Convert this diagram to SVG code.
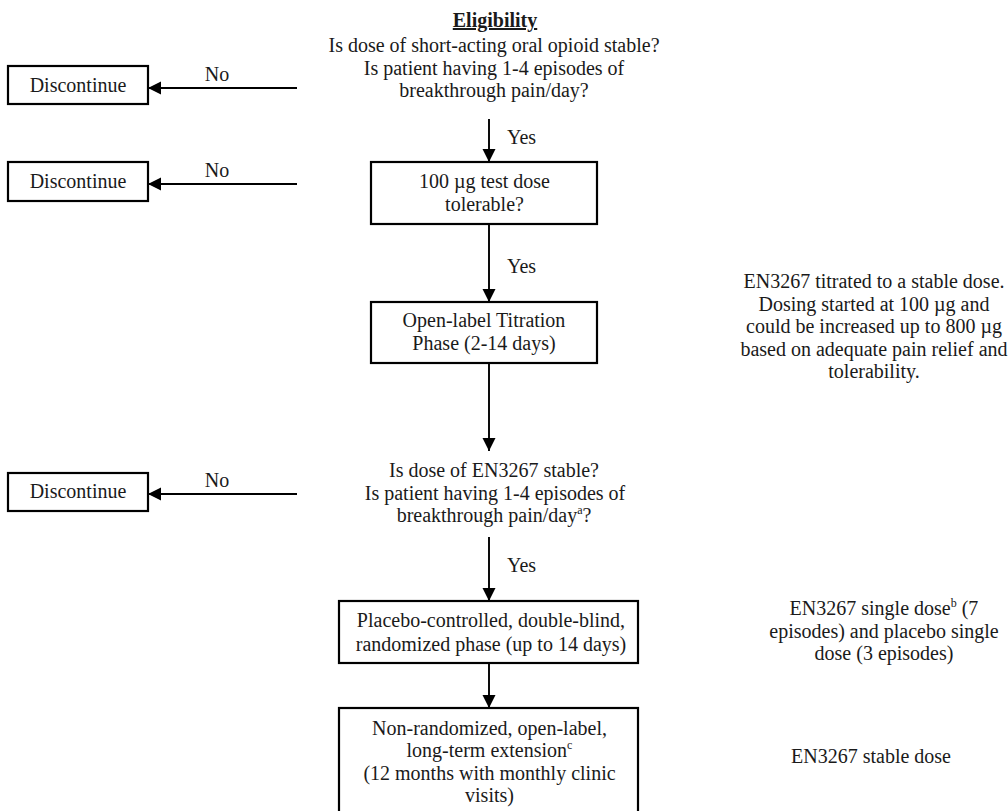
<svg xmlns="http://www.w3.org/2000/svg" width="1008" height="811" viewBox="0 0 1008 811">
<style>
text{font-family:"Liberation Serif","Times New Roman",serif;font-size:20px;fill:#1a1a1a;text-anchor:middle}
.bold{font-weight:bold;text-decoration:underline}
.box{fill:#fff;stroke:#000;stroke-width:2.2}
.conn{stroke:#000;stroke-width:1.9;fill:none}
.lbl{text-anchor:start}
.sup{font-size:12px}
</style>
<defs>
<marker id="ah" viewBox="0 0 14 14" refX="13" refY="7" markerWidth="14" markerHeight="14" markerUnits="userSpaceOnUse" orient="auto">
<path d="M0,0.5 L13,7 L0,13.5 Z" fill="#000"/>
</marker>
</defs>
<rect width="1008" height="811" fill="#fff"/>

<g id="eligibility">
<text x="495" y="27" class="bold">Eligibility</text>
<text x="494" y="52">Is dose of short-acting oral opioid stable?</text>
<text x="494" y="74.5">Is patient having 1-4 episodes of</text>
<text x="494" y="97">breakthrough pain/day?</text>
</g>

<g id="discontinue1">
<rect class="box" x="8" y="66" width="140" height="38"/>
<text x="78" y="92">Discontinue</text>
</g>
<g id="discontinue2">
<rect class="box" x="8" y="162" width="140" height="39"/>
<text x="78" y="188">Discontinue</text>
</g>
<g id="discontinue3">
<rect class="box" x="8" y="473" width="140" height="38"/>
<text x="78" y="498">Discontinue</text>
</g>

<g id="testdose">
<rect class="box" x="371" y="162" width="226" height="62"/>
<text x="484.5" y="188">100 µg test dose</text>
<text x="484.5" y="211">tolerable?</text>
</g>

<g id="titration">
<rect class="box" x="371" y="302" width="226" height="61"/>
<text x="484" y="327">Open-label Titration</text>
<text x="484" y="350">Phase (2-14 days)</text>
</g>

<g id="titration-note">
<text x="874" y="288">EN3267 titrated to a stable dose.</text>
<text x="874" y="310.5">Dosing started at 100 µg and</text>
<text x="874" y="333">could be increased up to 800 µg</text>
<text x="874" y="355.5">based on adequate pain relief and</text>
<text x="874" y="378">tolerability.</text>
</g>

<g id="stable-question">
<text x="494" y="477">Is dose of EN3267 stable?</text>
<text x="495" y="499.5">Is patient having 1-4 episodes of</text>
<text x="494" y="522">breakthrough pain/day<tspan class="sup" dy="-8">a</tspan><tspan dy="8">?</tspan></text>
</g>

<g id="randomized">
<rect class="box" x="339" y="601" width="299" height="62"/>
<text x="491" y="627">Placebo-controlled, double-blind,</text>
<text x="491" y="651">randomized phase (up to 14 days)</text>
</g>

<g id="randomized-note">
<text x="884" y="615">EN3267 single dose<tspan class="sup" dy="-8">b</tspan><tspan dy="8"> (7</tspan></text>
<text x="884" y="638">episodes) and placebo single</text>
<text x="884" y="660">dose (3 episodes)</text>
</g>

<g id="extension">
<rect class="box" x="339" y="708" width="299" height="110"/>
<text x="489.5" y="735">Non-randomized, open-label,</text>
<text x="489.5" y="757">long-term extension<tspan class="sup" dy="-8">c</tspan></text>
<text x="489.5" y="780">(12 months with monthly clinic</text>
<text x="489.5" y="802">visits)</text>
</g>

<g id="extension-note">
<text x="871" y="763">EN3267 stable dose</text>
</g>

<g id="connectors">
<line class="conn" x1="297" y1="88" x2="148" y2="88" marker-end="url(#ah)"/>
<line class="conn" x1="297" y1="184" x2="148" y2="184" marker-end="url(#ah)"/>
<line class="conn" x1="297" y1="494" x2="148" y2="494" marker-end="url(#ah)"/>
<line class="conn" x1="489" y1="119" x2="489" y2="162" marker-end="url(#ah)"/>
<line class="conn" x1="489" y1="224" x2="489" y2="302" marker-end="url(#ah)"/>
<line class="conn" x1="489" y1="363" x2="489" y2="451" marker-end="url(#ah)"/>
<line class="conn" x1="489" y1="537" x2="489" y2="601" marker-end="url(#ah)"/>
<line class="conn" x1="489" y1="663" x2="489" y2="708" marker-end="url(#ah)"/>
<text x="217" y="81">No</text>
<text x="217" y="177">No</text>
<text x="217" y="487">No</text>
<text class="lbl" x="507" y="144">Yes</text>
<text class="lbl" x="507" y="273">Yes</text>
<text class="lbl" x="507" y="572">Yes</text>
</g>
</svg>
